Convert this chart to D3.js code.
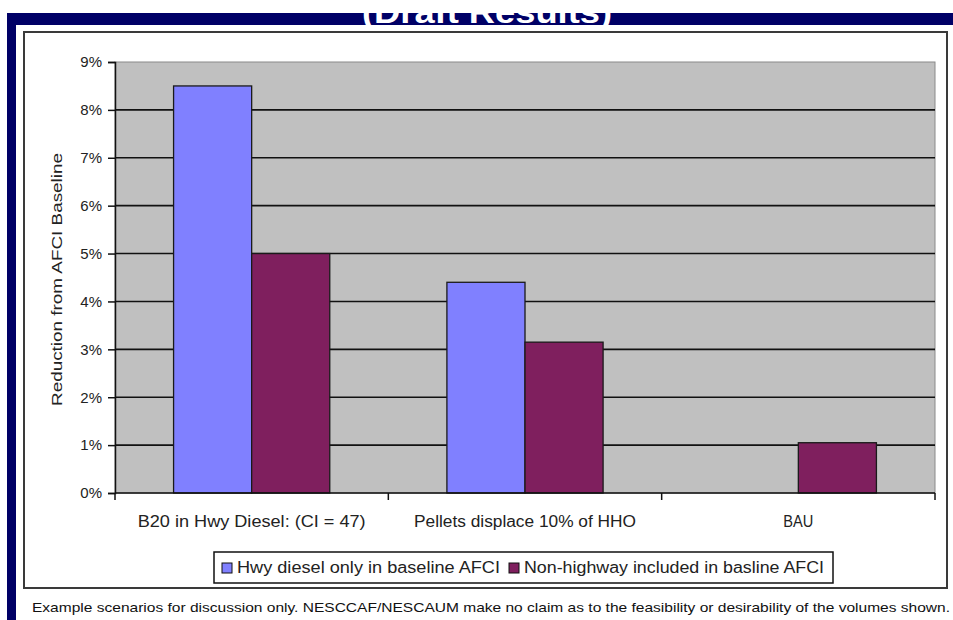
<!DOCTYPE html>
<html>
<head>
<meta charset="utf-8">
<script src="https://cdn.jsdelivr.net/npm/d3@7"></script>
<style>
  html, body { margin: 0; padding: 0; background: #ffffff; }
  svg { display: block; }
  text { font-family: Arial, "Liberation Sans", sans-serif; }
</style>
</head>
<body>
<svg id="chart" width="953" height="620"></svg>
<script>
// Scenario categories and the two reduction series (percent)
const categories = ["B20 in Hwy Diesel: (CI = 47)", "Pellets displace 10% of HHO", "BAU"];
const seriesNames = ["Hwy diesel only in baseline AFCI", "Non-highway included in basline AFCI"];
const hwyOnly = [8.5, 4.4, null];
const nonHighway = [5.0, 3.15, 1.05];
const yTicks = [0, 1, 2, 3, 4, 5, 6, 7, 8, 9];
const titleText = "(Draft Results)";
const footnote = "Example scenarios for discussion only. NESCCAF/NESCAUM make no claim as to the feasibility or desirability of the volumes shown.";

const colors = ["#8080ff", "#7f1f5e"];
const navy = "#000066";

const svg = d3.select("#chart");

// Slide frame: navy header band and left stripe
svg.append("rect").attr("x", 7).attr("y", 13).attr("width", 946).attr("height", 12).attr("fill", navy);
svg.append("rect").attr("x", 7).attr("y", 13).attr("width", 9).attr("height", 607).attr("fill", navy);
svg.append("text")
  .attr("x", 487).attr("y", 23)
  .attr("text-anchor", "middle")
  .attr("font-size", 32).attr("font-weight", "bold")
  .attr("fill", "#ffffff")
  .attr("textLength", 250).attr("lengthAdjust", "spacingAndGlyphs")
  .text(titleText);

// Chart box
svg.append("rect")
  .attr("x", 24).attr("y", 32).attr("width", 923).attr("height", 556)
  .attr("fill", "#ffffff").attr("stroke", "#3a3a3a").attr("stroke-width", 2);

// Plot area
const plot = { left: 115, right: 935, top: 62, bottom: 493 };

const x = d3.scaleBand().domain(categories).range([plot.left, plot.right]).paddingInner(0).paddingOuter(0);
const xSeries = d3.scaleBand().domain(seriesNames).range([0, x.bandwidth()]).paddingInner(0).paddingOuter(0.75);
const y = d3.scaleLinear().domain([0, 9]).range([plot.bottom, plot.top]);

svg.append("rect")
  .attr("x", plot.left).attr("y", plot.top)
  .attr("width", plot.right - plot.left).attr("height", plot.bottom - plot.top)
  .attr("fill", "#c0c0c0").attr("stroke", "#8a8a8a").attr("stroke-width", 1);

// Horizontal gridlines
svg.append("g").selectAll("line")
  .data(yTicks.filter(d => d > 0 && d < 9))
  .join("line")
  .attr("x1", plot.left).attr("x2", plot.right)
  .attr("y1", d => y(d)).attr("y2", d => y(d))
  .attr("stroke", "#111").attr("stroke-width", 1.6);

// Bars
const rows = categories.map((c, i) => ({ cat: c, values: [hwyOnly[i], nonHighway[i]] }));
const groups = svg.append("g").selectAll("g")
  .data(rows).join("g")
  .attr("transform", d => `translate(${x(d.cat)},0)`);
groups.selectAll("rect")
  .data(d => d.values.map((v, j) => ({ name: seriesNames[j], v, j })).filter(e => e.v !== null))
  .join("rect")
  .attr("x", d => xSeries(d.name))
  .attr("width", xSeries.bandwidth())
  .attr("y", d => y(d.v))
  .attr("height", d => y(0) - y(d.v))
  .attr("fill", d => colors[d.j])
  .attr("stroke", "#1a1a1a").attr("stroke-width", 1.3);

// Y axis
const yAxis = d3.axisLeft(y).tickValues(yTicks).tickSize(7).tickPadding(6).tickFormat(d => d + "%");
const gy = svg.append("g").attr("transform", `translate(${plot.left},0)`).call(yAxis);
gy.select(".domain").attr("stroke", "#111").attr("stroke-width", 1.5);
gy.selectAll(".tick line").attr("stroke", "#111").attr("stroke-width", 1.5);
gy.selectAll(".tick text").attr("font-size", 15).attr("fill", "#222")
  .attr("font-family", "Arial, 'Liberation Sans', sans-serif");

// X axis with ticks at category boundaries
const gx = svg.append("g").attr("transform", `translate(0,${plot.bottom})`);
gx.append("line").attr("x1", plot.left).attr("x2", plot.right).attr("y1", 0).attr("y2", 0)
  .attr("stroke", "#111").attr("stroke-width", 1.5);
const boundaries = categories.map(c => x(c)).concat([x(categories[categories.length - 1]) + x.bandwidth()]);
gx.selectAll("line.tk").data(boundaries).join("line").attr("class", "tk")
  .attr("x1", d => d).attr("x2", d => d).attr("y1", 0).attr("y2", 7)
  .attr("stroke", "#111").attr("stroke-width", 1.5);
const xLabelLengths = [228, 222, 30];
gx.selectAll("text").data(categories).join("text")
  .attr("x", d => x(d) + x.bandwidth() / 2)
  .attr("y", 34)
  .attr("text-anchor", "middle")
  .attr("font-size", 16).attr("fill", "#222")
  .attr("textLength", (d, i) => xLabelLengths[i]).attr("lengthAdjust", "spacingAndGlyphs")
  .text(d => d);

// Y axis title
svg.append("text")
  .attr("transform", `translate(62,${(plot.top + plot.bottom) / 2 + 2}) rotate(-90)`)
  .attr("text-anchor", "middle")
  .attr("font-size", 15).attr("fill", "#222")
  .attr("textLength", 253).attr("lengthAdjust", "spacingAndGlyphs")
  .text("Reduction from AFCI Baseline");

// Legend
const legend = svg.append("g");
legend.append("rect").attr("x", 214).attr("y", 552).attr("width", 619).attr("height", 31)
  .attr("fill", "#ffffff").attr("stroke", "#111").attr("stroke-width", 1.5);
const legendItems = [
  { name: seriesNames[0], color: colors[0], sx: 222, tx: 237, len: 263 },
  { name: seriesNames[1], color: colors[1], sx: 509, tx: 524, len: 300 }
];
legend.selectAll("rect.sw").data(legendItems).join("rect").attr("class", "sw")
  .attr("x", d => d.sx).attr("y", 563).attr("width", 10).attr("height", 10)
  .attr("fill", d => d.color).attr("stroke", "#111").attr("stroke-width", 1);
legend.selectAll("text").data(legendItems).join("text")
  .attr("x", d => d.tx).attr("y", 573)
  .attr("font-size", 16).attr("fill", "#222")
  .attr("textLength", d => d.len).attr("lengthAdjust", "spacingAndGlyphs")
  .text(d => d.name);

// Footnote
svg.append("text")
  .attr("x", 32).attr("y", 612)
  .attr("font-size", 13).attr("fill", "#111")
  .attr("textLength", 918).attr("lengthAdjust", "spacingAndGlyphs")
  .text(footnote);
</script>
</body>
</html>
